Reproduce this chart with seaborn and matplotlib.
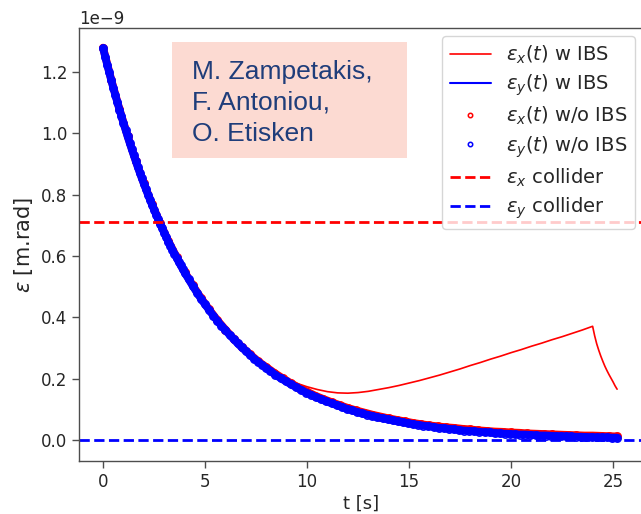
import numpy as np
import matplotlib
matplotlib.use("Agg")
import matplotlib.pyplot as plt
import seaborn as sns
from matplotlib.patches import Rectangle

# ---------------- data (emittance in units of 1e-9 m.rad) ----------------
# sample times of the tracked emittance without IBS (s)
t_wo = np.round(np.concatenate([np.arange(0, 4.001, 0.1),
                                np.arange(4.2, 8.001, 0.2),
                                np.arange(8.2, 25.201, 0.25)]), 3)
ey_wo = [1.277, 1.250, 1.224, 1.198, 1.173, 1.148, 1.124, 1.101, 1.077, 1.055,
         1.033, 1.011, 0.990, 0.969, 0.949, 0.929, 0.909, 0.890, 0.871, 0.853,
         0.835, 0.818, 0.800, 0.784, 0.767, 0.751, 0.735, 0.720, 0.705, 0.690,
         0.675, 0.661, 0.647, 0.634, 0.620, 0.607, 0.595, 0.582, 0.570, 0.558,
         0.546,
         0.524, 0.502, 0.481, 0.461, 0.442, 0.424, 0.406, 0.389, 0.373, 0.358,
         0.343, 0.329, 0.315, 0.302, 0.290, 0.278, 0.266, 0.255, 0.245, 0.234,
         0.225, 0.213, 0.202, 0.192, 0.182, 0.173, 0.164, 0.155, 0.148, 0.140,
         0.133, 0.126, 0.120, 0.114, 0.108, 0.102, 0.097, 0.092, 0.087, 0.083,
         0.079, 0.075, 0.071, 0.068, 0.064, 0.061, 0.058, 0.055, 0.052, 0.050,
         0.047, 0.045, 0.043, 0.040, 0.039, 0.037, 0.035, 0.033, 0.031, 0.030,
         0.029, 0.027, 0.026, 0.025, 0.023, 0.022, 0.021, 0.020, 0.019, 0.018,
         0.018, 0.017, 0.016, 0.015, 0.015, 0.014, 0.013, 0.013, 0.012, 0.012,
         0.011, 0.011, 0.010, 0.010, 0.009, 0.009, 0.009, 0.008, 0.008]

t_ex_wo = np.round(np.arange(0, 25.201, 0.4), 3)
ex_wo = [1.279, 1.175, 1.079, 0.992, 0.911, 0.837, 0.769, 0.707, 0.649, 0.597,
         0.548, 0.504, 0.463, 0.426, 0.391, 0.360, 0.331, 0.304, 0.280, 0.257,
         0.238, 0.219, 0.202, 0.186, 0.171, 0.158, 0.145, 0.134, 0.124, 0.114,
         0.105, 0.097, 0.090, 0.083, 0.077, 0.071, 0.066, 0.061, 0.056, 0.052,
         0.048, 0.045, 0.042, 0.040, 0.037, 0.035, 0.032, 0.030, 0.028, 0.027,
         0.025, 0.024, 0.022, 0.021, 0.020, 0.019, 0.018, 0.017, 0.016, 0.015,
         0.015, 0.014, 0.013, 0.012]

t_ibs = [0.0, 0.5, 1.0, 1.5, 2.0, 2.5, 3.0, 3.5, 4.0, 4.5,
         5.0, 5.5, 6.0, 6.5, 7.0, 7.5, 8.0, 8.5, 9.0, 9.5,
         10.0, 10.5, 11.0, 11.5, 12.0, 12.5, 13.0, 13.5, 14.0, 14.5,
         15.0, 15.5, 16.0, 16.5, 17.0, 17.5, 18.0, 18.5, 19.0, 19.5,
         20.0, 20.5, 21.0, 21.5, 22.0, 22.5, 23.0, 23.5, 24.0,
         24.1, 24.2, 24.3, 24.4, 24.5, 24.6, 24.7, 24.8, 24.9, 25.0, 25.1, 25.2]
ex_ibs = [1.277, 1.148, 1.033, 0.929, 0.835, 0.751, 0.675, 0.607, 0.546, 0.491,
          0.442, 0.398, 0.358, 0.322, 0.290, 0.261, 0.234, 0.216, 0.198, 0.185,
          0.174, 0.165, 0.158, 0.154, 0.153, 0.155, 0.159, 0.165, 0.171, 0.178,
          0.186, 0.194, 0.203, 0.212, 0.222, 0.232, 0.243, 0.253, 0.264, 0.274,
          0.285, 0.295, 0.306, 0.316, 0.327, 0.337, 0.348, 0.359, 0.371,
          0.340, 0.314, 0.293, 0.274, 0.257, 0.241, 0.227, 0.214, 0.202, 0.190, 0.177, 0.166]
ey_ibs = [1.277, 1.148, 1.033, 0.929, 0.835, 0.751, 0.675, 0.607, 0.546, 0.491,
          0.442, 0.398, 0.358, 0.322, 0.290, 0.261, 0.234, 0.211, 0.190, 0.171,
          0.154, 0.139, 0.125, 0.112, 0.101, 0.091, 0.082, 0.074, 0.067, 0.060,
          0.054, 0.049, 0.044, 0.040, 0.036, 0.033, 0.030, 0.027, 0.024, 0.022,
          0.020, 0.018, 0.017, 0.015, 0.014, 0.013, 0.012, 0.011, 0.010,
          0.010, 0.010, 0.010, 0.009, 0.009, 0.009, 0.009, 0.009, 0.008, 0.008, 0.008, 0.008]

ex_collider = 0.71
ey_collider = 0.002

labels = [r"$\epsilon_x(t)$ w IBS", r"$\epsilon_y(t)$ w IBS",
          r"$\epsilon_x(t)$ w/o IBS", r"$\epsilon_y(t)$ w/o IBS",
          r"$\epsilon_x$ collider", r"$\epsilon_y$ collider"]
authors = "M. Zampetakis,\nF. Antoniou,\nO. Etisken"

SCALE = 1e-9
# ------------------------------------------------------------------------

sns.set_theme(style="ticks")
plt.rcParams["font.family"] = ["DejaVu Sans"]
plt.rcParams["mathtext.fontset"] = "dejavusans"

fig = plt.figure(figsize=(6.41, 5.14), dpi=100)
ax = fig.add_axes([79 / 641, 1 - 461 / 514, 564 / 641, (461 - 28) / 514])

RED, BLUE = "#ff0000", "#0000ff"
circ = dict(linestyle="", marker="o", markersize=5.3, markerfacecolor="none",
            markeredgewidth=1.1, estimator=None, sort=False)

sns.lineplot(x=t_ibs, y=np.array(ex_ibs) * SCALE, ax=ax, color=RED,
             lw=1.2, estimator=None, sort=False, label=labels[0])
sns.lineplot(x=t_ibs, y=np.array(ey_ibs) * SCALE, ax=ax, color=BLUE,
             lw=1.5, estimator=None, sort=False, label=labels[1])
# dense w/o IBS samples: thick trace under the circle markers
sns.lineplot(x=t_ex_wo, y=np.array(ex_wo) * SCALE, ax=ax, color=RED,
             lw=5.6, estimator=None, sort=False, label="_nolegend_")
sns.lineplot(x=t_ex_wo, y=np.array(ex_wo) * SCALE, ax=ax, color=RED,
             markeredgecolor=RED, label=labels[2], **circ)
sns.lineplot(x=t_wo, y=np.array(ey_wo) * SCALE, ax=ax, color=BLUE,
             lw=5.6, estimator=None, sort=False, label="_nolegend_")
sns.lineplot(x=t_wo, y=np.array(ey_wo) * SCALE, ax=ax, color=BLUE,
             markeredgecolor=BLUE, label=labels[3], **circ)
ax.axhline(ex_collider * SCALE, color=RED, ls="--", lw=2, label=labels[4])
ax.axhline(ey_collider * SCALE, color=BLUE, ls="--", lw=2, label=labels[5])

ax.set_xlim(-1.18, 26.47)
ax.set_ylim(-0.068 * SCALE, 1.343 * SCALE)
ax.set_xticks([0, 5, 10, 15, 20, 25])
ax.set_yticks(np.array([0.0, 0.2, 0.4, 0.6, 0.8, 1.0, 1.2]) * SCALE)
ax.tick_params(labelsize=12, length=5, width=1, color=".3")
ax.yaxis.get_offset_text().set_fontsize(12)
for s in ax.spines.values():
    s.set_color(".3")
    s.set_linewidth(1.0)
ax.set_xlabel("t [s]", fontsize=13, labelpad=3)
ax.set_ylabel(r"$\epsilon$ [m.rad]", fontsize=15, labelpad=4)

ax.legend(loc="upper right", fontsize=14, markerscale=0.6, handlelength=2.1,
          framealpha=0.8, labelspacing=0.35, borderaxespad=0.4)

# author box overlay
fig.patches.append(Rectangle((172 / 641, 1 - 158 / 514), 235 / 641, 116 / 514,
                             transform=fig.transFigure, facecolor="#fcdad2",
                             edgecolor="none", zorder=5))
fig.text(192 / 641, 1 - 60 / 514, authors, family=["Liberation Sans"],
         fontsize=19, color="#1f3d7a", va="top", ha="left",
         linespacing=1.36, zorder=6)

fig.savefig("out.png", dpi=100)
